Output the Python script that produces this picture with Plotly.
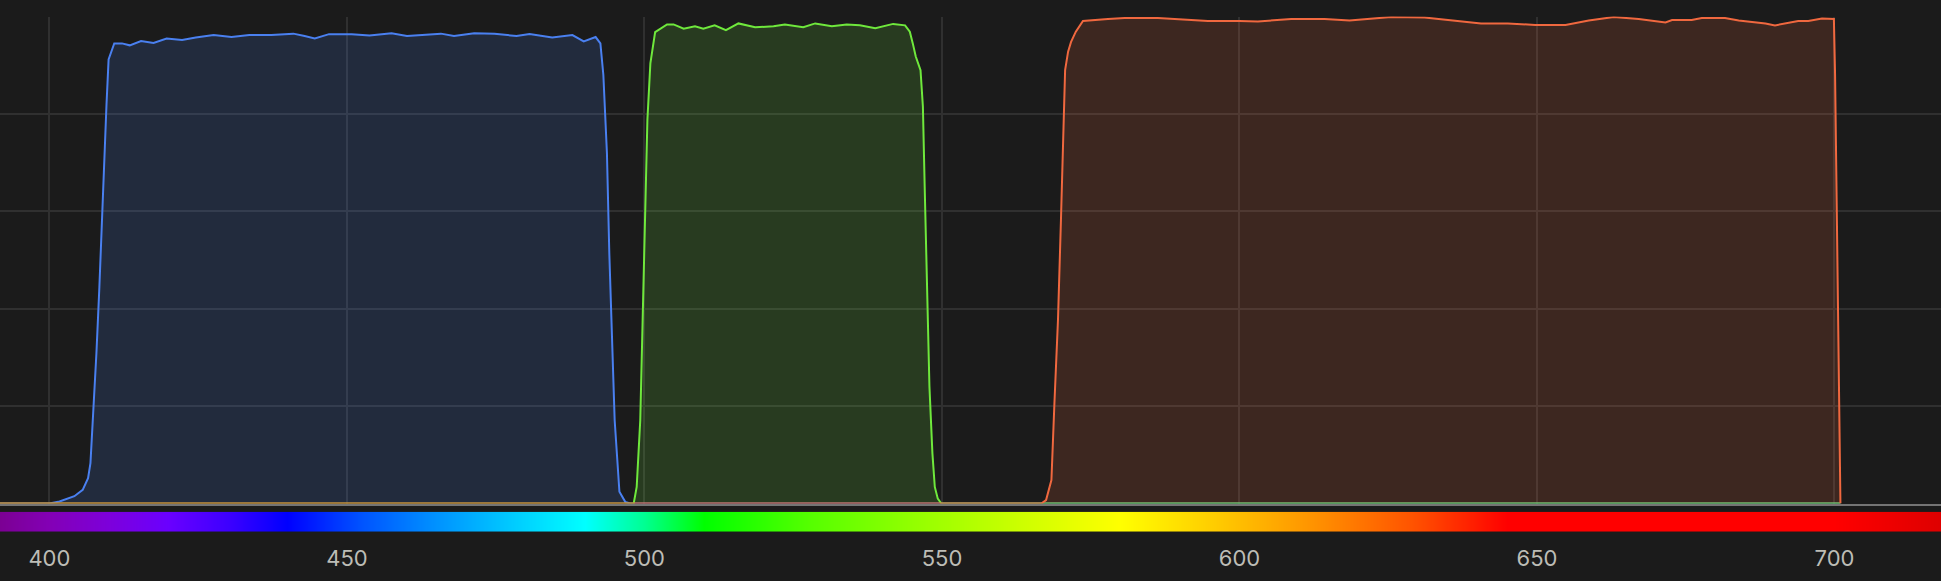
import plotly.graph_objects as go

# filter transmission curves (% vs nm)
blue_nm = [390, 400, 401.7, 404.2, 405.6, 406.5, 406.9, 407.3, 407.9, 408.4, 409.0, 409.6, 409.95,
           410.9, 412.2, 413.5, 415.4, 417.5, 419.7, 422.3, 424.6, 427.6, 430.6, 433.6, 437.3,
           441.0, 442.9, 444.6, 447.0, 450.8, 453.8, 457.5, 460.1, 462.8, 465.8, 468.0, 471.4,
           474.8, 478.5, 480.7, 484.5, 487.9, 489.8, 491.8, 492.6, 493.1, 493.7, 494.1, 494.6,
           495.0, 495.8, 496.8, 497.6, 701]
blue_t = [0, 0, 0.4, 1.5, 2.8, 5.2, 8.3, 17, 30.8, 44.4, 64.9, 82, 91.2,
          94.5, 94.5, 94.1, 95.0, 94.6, 95.5, 95.2, 95.7, 96.2, 95.8, 96.2, 96.2,
          96.5, 96.0, 95.5, 96.4, 96.4, 96.1, 96.6, 96.0, 96.3, 96.5, 96.0, 96.6,
          96.5, 96.0, 96.4, 95.7, 96.2, 94.9, 95.8, 94.5, 88, 72, 51.4, 30.8,
          17.1, 2.4, 0.3, 0, 0]

green_nm = [390, 497.6, 498.2, 498.7, 499.3, 499.7, 500.1, 500.5, 501.0, 501.8, 503.8, 504.9,
            506.6, 508.5, 509.9, 511.8, 513.7, 515.8, 518.6, 521.7, 523.6, 526.7, 528.7, 531.5,
            534.0, 536.2, 538.8, 541.8, 543.8, 544.6, 545.1, 545.6, 546.4, 546.8, 547.1, 547.5,
            547.9, 548.4, 548.8, 549.3, 549.9, 701]
green_t = [0, 0, 0, 3.4, 17.1, 37.7, 58.2, 78.8, 90.4, 96.8, 98.4, 98.4,
           97.5, 98.0, 97.5, 98.2, 97.2, 98.6, 97.8, 98.0, 98.4, 97.8, 98.6, 98.0,
           98.4, 98.2, 97.6, 98.5, 98.2, 96.9, 94.5, 91.8, 89.0, 81.5, 65.1, 44.5,
           24.0, 10.3, 3.4, 1.0, 0, 0]

red_nm = [390, 566.7, 567.5, 568.4, 568.9, 569.5, 570.0, 570.5, 570.7, 571.2, 571.7, 572.5,
          573.7, 577.9, 580.7, 586.3, 590.8, 594.7, 600.0, 603.1, 608.7, 614.3, 618.5, 625.5,
          631.1, 635.6, 640.6, 645.1, 649.7, 654.8, 658.7, 662.9, 667.1, 671.6, 672.7, 676.0,
          677.7, 681.6, 683.9, 688.4, 690.0, 693.9, 695.6, 697.9, 699.9, 700.1, 701.0]
red_t = [0, 0, 0.7, 4.8, 20.5, 37.7, 58.2, 78.8, 89.0, 92.8, 94.8, 96.9,
         99.1, 99.5, 99.7, 99.7, 99.3, 99.1, 99.1, 99.0, 99.5, 99.5, 99.2, 99.9,
         99.8, 99.3, 98.6, 98.6, 98.3, 98.3, 99.2, 99.9, 99.5, 98.8, 99.3, 99.3,
         99.7, 99.7, 99.2, 98.6, 98.2, 99.1, 99.1, 99.6, 99.5, 88, 0]

# visible spectrum strip under the plot
spectrum_nm = [380, 392, 400, 410, 420, 430, 440, 452.5, 465, 477.5, 490, 500, 510,
               527.5, 545, 562.5, 580, 596, 612.5, 629, 645, 700, 718, 730]
spectrum_rgb = [(97, 0, 97), (124, 0, 149), (131, 0, 181), (125, 0, 219), (106, 0, 255),
                (61, 0, 255), (0, 0, 255), (0, 84, 255), (0, 146, 255), (0, 202, 255),
                (0, 255, 255), (0, 255, 146), (0, 255, 0), (84, 255, 0), (146, 255, 0),
                (202, 255, 0), (255, 255, 0), (255, 203, 0), (255, 146, 0), (255, 83, 0),
                (255, 0, 0), (255, 0, 0), (222, 0, 0), (200, 0, 0)]

tick_nm = [400, 450, 500, 550, 600, 650, 700]

BG = "#1b1b1b"
GRID = "#303030"

lo, hi = spectrum_nm[0], spectrum_nm[-1]
colorscale = [[(w - lo) / (hi - lo), "rgb(%d,%d,%d)" % c] for w, c in zip(spectrum_nm, spectrum_rgb)]

fig = go.Figure()

for nm, t, line, fill in [
    (blue_nm, blue_t, "#4a80f0", "rgba(74,128,240,0.16)"),
    (green_nm, green_t, "#6fe83c", "rgba(111,232,60,0.16)"),
    (red_nm, red_t, "#f0683f", "rgba(240,104,63,0.16)"),
]:
    fig.add_trace(go.Scatter(x=nm, y=t, mode="lines", fill="tozeroy",
                             line=dict(color=line, width=2), fillcolor=fill,
                             hoverinfo="skip", showlegend=False))

fig.add_trace(go.Heatmap(x=spectrum_nm, y=[0, 1], z=[spectrum_nm, spectrum_nm],
                         zmin=lo, zmax=hi, colorscale=colorscale, zsmooth="best",
                         showscale=False, hoverinfo="skip", xaxis="x2", yaxis="y2"))

xr = [391.7, 717.9]
fig.update_layout(
    width=1941, height=581,
    margin=dict(l=0, r=0, t=0, b=0),
    paper_bgcolor=BG, plot_bgcolor=BG,
    font=dict(family="Inter, Roboto, sans-serif", color="#bdbdb6", size=22),
    xaxis=dict(range=xr, domain=[0, 1], tickvals=tick_nm, showticklabels=False,
               showgrid=True, gridcolor=GRID, gridwidth=1.5, zeroline=False,
               showline=True, linecolor="#747474", linewidth=2, ticks=""),
    yaxis=dict(range=[0, 100], domain=[1 - 503.5 / 581, 1 - 16.6 / 581], dtick=20,
               showticklabels=False, showgrid=True, gridcolor=GRID, gridwidth=1.5,
               zeroline=False, showline=False),
    xaxis2=dict(range=xr, domain=[0, 1], anchor="y2", tickvals=tick_nm,
                showgrid=False, zeroline=False, showline=False, ticks="",
                ticklabelstandoff=11),
    yaxis2=dict(range=[-0.5, 1.5], domain=[1 - 531.7 / 581, 1 - 511.7 / 581],
                anchor="x2", showticklabels=False, showgrid=False, zeroline=False),
)

fig.write_html("out.html", config={"displayModeBar": False},
               post_script="document.body.style.margin='0';"
                           "document.body.style.background='%s';" % BG)
